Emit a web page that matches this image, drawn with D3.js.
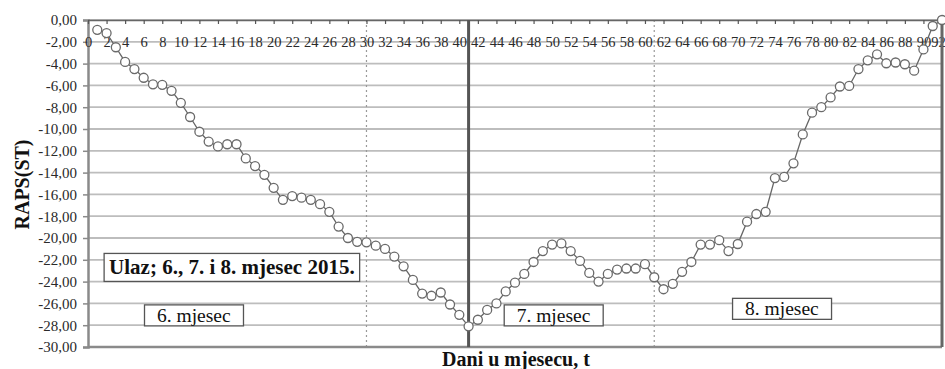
<!DOCTYPE html>
<html><head><meta charset="utf-8">
<script src="https://cdn.jsdelivr.net/npm/d3@7"></script>
<style>body{margin:0;background:#fff;} svg{display:block;}</style>
</head><body><svg id="c" width="945" height="369"></svg>
<script>
const days = d3.range(1, 93);
const raps = [-0.9,-1.2,-2.5,-3.85,-4.5,-5.3,-5.9,-5.95,-6.5,-7.6,
-8.9,-10.25,-11.15,-11.6,-11.4,-11.4,-12.7,-13.4,-14.2,-15.4,
-16.5,-16.15,-16.3,-16.5,-16.9,-17.6,-18.95,-20.0,-20.35,-20.4,
-20.7,-21.0,-21.7,-22.6,-23.85,-25.1,-25.3,-25.0,-26.1,-27.05,
-28.1,-27.5,-26.6,-26.0,-24.9,-24.1,-23.3,-22.2,-21.2,-20.6,
-20.5,-21.2,-22.1,-23.2,-24.0,-23.3,-22.9,-22.8,-22.8,-22.4,
-23.6,-24.7,-24.2,-23.1,-22.2,-20.6,-20.6,-20.2,-21.2,-20.55,
-18.5,-17.8,-17.6,-14.5,-14.4,-13.15,-10.5,-8.5,-8.0,-7.1,
-6.1,-6.05,-4.5,-3.7,-3.15,-3.97,-3.9,-4.06,-4.65,-2.7,
-0.55,0.0];
const xTicks = d3.range(0, 93, 2);
const yTicks = d3.range(0, -31, -2);
const dottedLines = [30, 61];
const minLine = [41];
const notes = [
  {t:"Ulaz; 6., 7. i 8. mjesec 2015.", x:15.5, y:-22.7, bold:true},
  {t:"6. mjesec", x:11.4, y:-27.1, bold:false},
  {t:"7. mjesec", x:50.15, y:-27.1, bold:false},
  {t:"8. mjesec", x:74.75, y:-26.5, bold:false}
];
const yTitle = "RAPS(ST)";
const xTitle = "Dani u mjesecu, t";

const FONT = '"Liberation Serif","Times New Roman",serif';
const svg = d3.select("#c");
const L = 88, R = 942, T = 20, B = 347;
const x = d3.scaleLinear().domain([0, 92]).range([L, R]);
const y = d3.scaleLinear().domain([-30, 0]).range([B, T]);
const fmt = v => d3.format(".2f")(v).replace(".", ",").replace("−","-");

// grid
svg.append("g").selectAll("line").data(yTicks).join("line")
  .attr("x1", L).attr("x2", R).attr("y1", d => y(d)).attr("y2", d => y(d))
  .attr("stroke", "#bdbdbd").attr("stroke-width", 1.8);

// dotted month separators
svg.append("g").selectAll("line").data(dottedLines).join("line")
  .attr("x1", d => x(d)).attr("x2", d => x(d)).attr("y1", T).attr("y2", B)
  .attr("stroke", "#999").attr("stroke-width", 1.2).attr("stroke-dasharray", "2,3");

// left y axis
const yAxis = d3.axisLeft(y).tickValues(yTicks).tickFormat(fmt).tickSize(5);
const gy = svg.append("g").attr("transform", `translate(${L},0)`).call(yAxis);
gy.select(".domain").attr("stroke", "#8a8a8a").attr("stroke-width", 2.5);
gy.selectAll(".tick line").attr("stroke", "#8a8a8a").attr("stroke-width", 1.5);
gy.selectAll(".tick text").style("font-size", "15px").style("font-family", FONT)
  .attr("fill", "#2a2a2a").attr("x", -11);

// bottom border
svg.append("line").attr("x1", L).attr("x2", R).attr("y1", B).attr("y2", B)
  .attr("stroke", "#8a8a8a").attr("stroke-width", 2.5);

// top axis with ticks
const xAxis = d3.axisBottom(x).tickValues(xTicks).tickFormat(d3.format("d")).tickSize(4).tickSizeOuter(0);
const gx = svg.append("g").attr("transform", `translate(0,${T})`).call(xAxis);
gx.select(".domain").attr("stroke", "#666").attr("stroke-width", 1.5);
gx.selectAll(".tick line").attr("stroke", "#555").attr("stroke-width", 1.2);
gx.selectAll(".tick text").style("font-size", "14.5px").style("font-family", FONT)
  .attr("fill", "#2a2a2a").attr("y", y(-2) - T).attr("dy", "0.35em")
  .attr("dx", d => d === 92 ? -4 : 0);

// right border and min line
svg.append("line").attr("x1", R).attr("x2", R).attr("y1", T).attr("y2", B)
  .attr("stroke", "#666").attr("stroke-width", 3);
svg.append("g").selectAll("line").data(minLine).join("line")
  .attr("x1", d => x(d)).attr("x2", d => x(d)).attr("y1", T).attr("y2", B)
  .attr("stroke", "#555").attr("stroke-width", 3);

// data line
const pts = days.map((d, i) => [d, raps[i]]);
svg.append("path").datum(pts)
  .attr("d", d3.line().x(d => x(d[0])).y(d => y(d[1])))
  .attr("fill", "none").attr("stroke", "#666").attr("stroke-width", 1.3);
svg.append("g").selectAll("circle").data(pts).join("circle")
  .attr("cx", d => x(d[0])).attr("cy", d => y(d[1])).attr("r", 4.5)
  .attr("fill", "#fff").attr("stroke", "#6a6a6a").attr("stroke-width", 1.3);

// notes
notes.forEach(n => {
  const g = svg.append("g");
  const t = g.append("text").text(n.t)
    .attr("x", x(n.x)).attr("y", y(n.y)).attr("text-anchor", "middle")
    .style("font-family", FONT).style("font-size", n.bold ? "21px" : "19.5px")
    .style("font-weight", n.bold ? "bold" : "normal")
    .attr("fill", "#111").attr("dominant-baseline", "central");
  const bb = t.node().getBBox();
  const padX = n.bold ? 5 : 12.5, padY = n.bold ? 2 : 0;
  g.insert("rect", "text")
    .attr("x", bb.x - padX).attr("y", bb.y - padY)
    .attr("width", bb.width + 2 * padX).attr("height", bb.height + 2 * padY)
    .attr("fill", "#fff").attr("stroke", "#555").attr("stroke-width", 1.3);
});

// titles
svg.append("text").text(yTitle).attr("transform", `translate(29,${(T + B) / 2 + 1}) rotate(-90)`)
  .attr("text-anchor", "middle").style("font-family", FONT).style("font-size", "20px")
  .style("font-weight", "bold").attr("fill", "#111");
svg.append("text").text(xTitle).attr("x", 516).attr("y", 366)
  .attr("text-anchor", "middle").style("font-family", FONT).style("font-size", "20px")
  .style("font-weight", "bold").attr("fill", "#111");
</script></body></html>
